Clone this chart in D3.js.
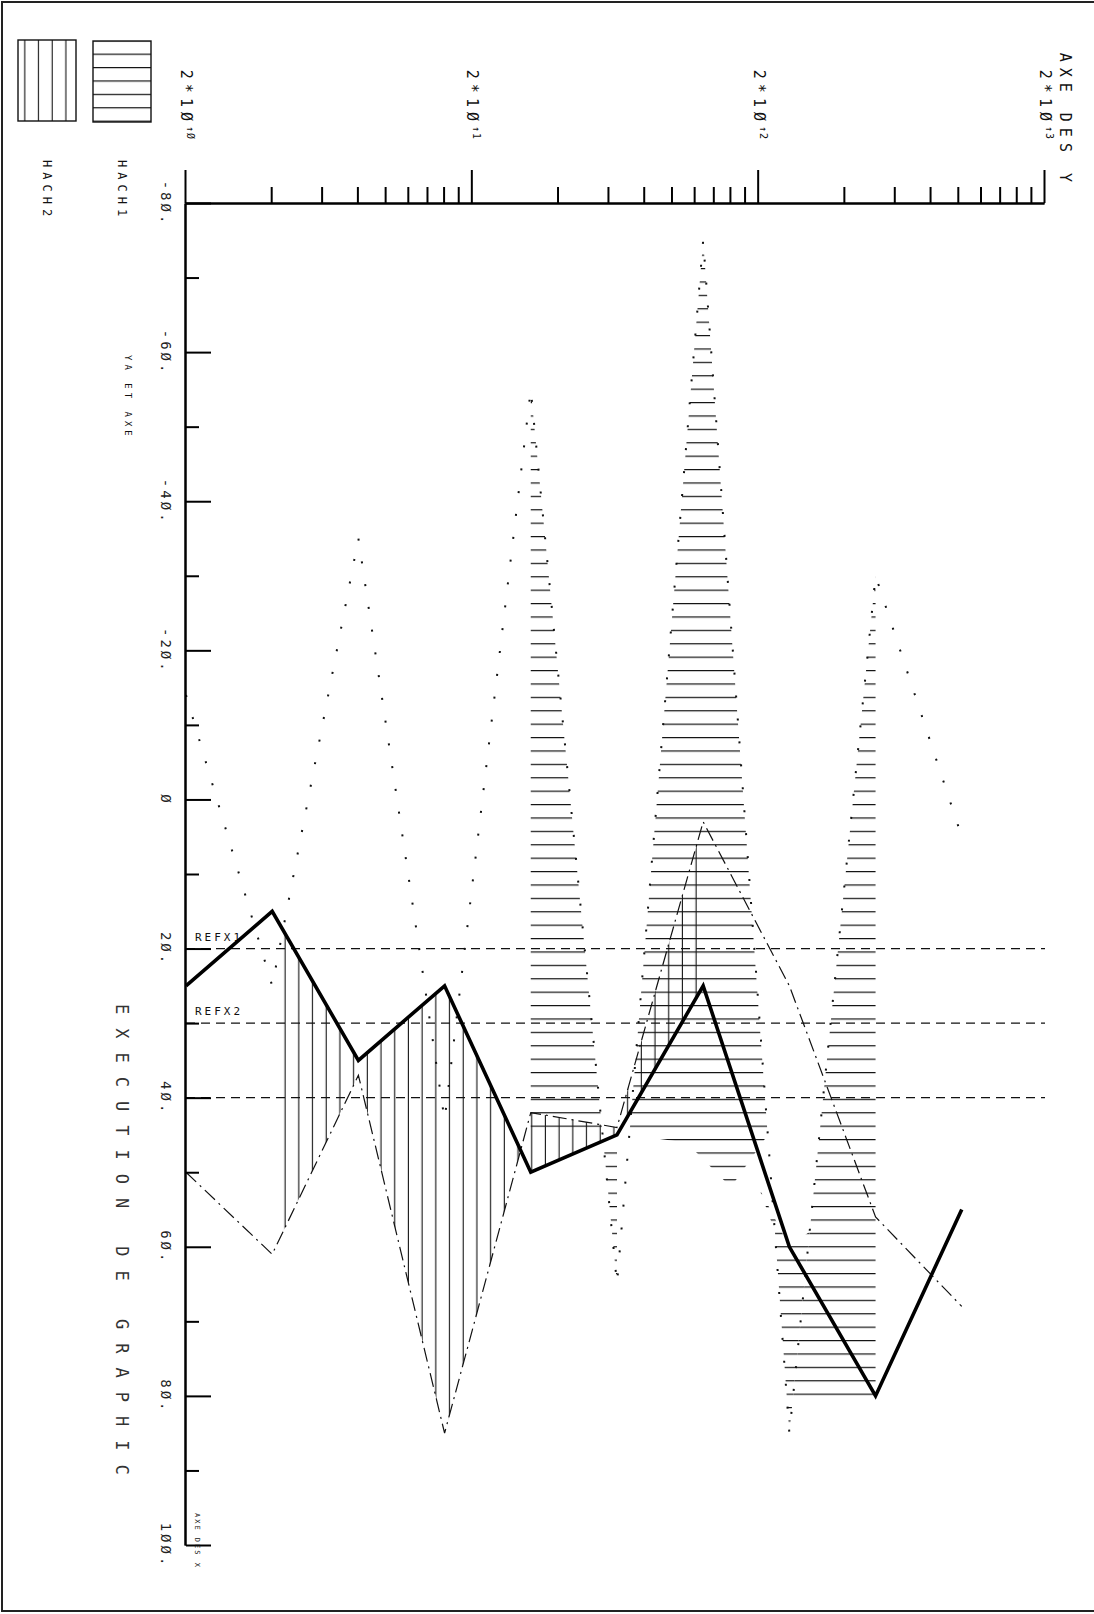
<!DOCTYPE html>
<html>
<head>
<meta charset="utf-8">
<script src="https://cdn.jsdelivr.net/npm/d3@7"></script>
<style>
  body { margin: 0; background: #fff; }
  svg { display: block; }
  text { font-family: "DejaVu Sans Mono", monospace; fill: #111; }
</style>
</head>
<body>
<svg id="plot" width="1094" height="1614"></svg>
<script>
// log axis values (Y), one point per doubling
var ys = [2, 4, 8, 16, 32, 64, 128, 256, 512, 1024];
// thick curve
var serie1 = [25, 15, 35, 25, 50, 45, 25, 60, 80, 55];
// dotted curve (spikes)
var serie2 = [-14, 25, -35, 43, -55, 65, -75, 85, -30, 5];
// dash-dot curve
var serie3 = [50, 61, 37, 85, 42, 44, 3, 25, 56, 68];

var xMinor = [-70, -50, -30, -10, 10, 30, 50, 70, 90];
var xMajor = [-80, -60, -40, -20, 0, 20, 40, 60, 80, 100];
var xLabels = ["-8Ø.", "-6Ø.", "-4Ø.", "-2Ø.", "Ø", "2Ø.", "4Ø.", "6Ø.", "8Ø.", "1ØØ."];
var yMinor = [4, 6, 8, 10, 12, 14, 16, 18, 40, 60, 80, 100, 120, 140, 160, 180, 400, 600, 800, 1000, 1200, 1400, 1600, 1800];
var yMajor = [2, 20, 200, 2000];
var yExpo = ["Ø", "1", "2", "3"];
var refVals = [20, 30, 40];
var refNames = ["REFX1", "REFX2", ""];

// hatched zones, corners as [X, Y]
var hach2Zones = [
  [[15, 4], [35, 8], [25, 16], [50, 32], [42, 32], [85, 16], [37, 8], [61, 4]],
  [[45, 64], [25, 128], [3, 128], [44, 64]],
  [[42, 32], [50, 32], [45, 64], [44, 64]]
];
var hach1Zones = [
  [[-55, 32], [44, 32], [44, 56.7]],
  [[47, 57.7], [47, 64], [65, 64]],
  [[-75, 128], [45, 70.7], [46, 112], [52, 160], [45, 215]],
  [[52, 200], [58, 228], [85, 256], [58, 301], [60, 256]],
  [[-30, 512], [80, 264], [80, 512]]
];

var svg = d3.select("#plot");

// frame of the sheet
svg.append("path").attr("d", "M1094,2 L2,2 L2,1611 L1094,1611")
  .style("fill", "none").style("stroke", "#222").style("stroke-width", 2);

// the whole chart is drawn sideways
var g = svg.append("g").attr("transform", "translate(1094,0) rotate(90)");

var x = d3.scaleLinear().domain([-80, 100]).range([203, 1545]);
var y = d3.scaleLog().domain([2, 2000]).range([908, 49]);

var defs = svg.append("defs");
var p1 = defs.append("pattern").attr("id", "hach1").attr("patternUnits", "userSpaceOnUse")
  .attr("width", 13.4).attr("height", 20);
p1.append("line").attr("x1", 0.6).attr("x2", 0.6).attr("y1", 0).attr("y2", 20)
  .style("stroke", "#111").style("stroke-width", 1.2);
var p2 = defs.append("pattern").attr("id", "hach2").attr("patternUnits", "userSpaceOnUse")
  .attr("width", 20).attr("height", 13.7);
p2.append("line").attr("x1", 0).attr("x2", 20).attr("y1", 0.6).attr("y2", 0.6)
  .style("stroke", "#111").style("stroke-width", 1.1);

var zone = d3.line().x(d => x(d[0])).y(d => y(d[1]));

g.selectAll(".h1").data(hach1Zones).enter().append("path")
  .attr("d", d => zone(d) + "Z").style("fill", "url(#hach1)").style("stroke", "none");
g.selectAll(".h2").data(hach2Zones).enter().append("path")
  .attr("d", d => zone(d) + "Z").style("fill", "url(#hach2)").style("stroke", "none");

// reference lines
refVals.forEach(function(v, i){
  g.append("line").attr("x1", x(v)).attr("x2", x(v)).attr("y1", y(2)).attr("y2", y(2000))
    .style("stroke", "#111").style("stroke-width", 1.2).style("stroke-dasharray", "9,6");
  if (refNames[i]) {
    g.append("text").attr("transform", "translate(" + (x(v) - 8) + "," + (y(2) - 9) + ") rotate(-90)")
      .style("font-size", "11px").style("letter-spacing", "3px").text(refNames[i]);
  }
});

var courbe = function(vals){
  return d3.line().x(d => x(d)).y((d, i) => y(ys[i]))(vals);
};

g.append("path").attr("d", courbe(serie2)).style("fill", "none")
  .style("stroke", "#111").style("stroke-width", 2).style("stroke-dasharray", "2,21");
g.append("path").attr("d", courbe(serie3)).style("fill", "none")
  .style("stroke", "#111").style("stroke-width", 1.2).style("stroke-dasharray", "14,5,2,5");
g.append("path").attr("d", courbe(serie1)).style("fill", "none")
  .style("stroke", "#000").style("stroke-width", 3.6).style("stroke-linejoin", "miter");

// linear axis (X)
var axX = g.append("g").attr("transform", "translate(0," + y(2) + ")");
axX.append("g").call(d3.axisBottom(x).tickValues(xMinor).tickSize(-13).tickSizeOuter(0).tickFormat(""));
axX.append("g").call(d3.axisBottom(x).tickValues(xMajor).tickSize(-25).tickSizeOuter(0)
  .tickPadding(15).tickFormat((d, i) => xLabels[i]));
axX.selectAll("path, line").style("stroke", "#000").style("stroke-width", 2);
axX.selectAll("text").style("font-size", "14px").style("letter-spacing", "3px")
  .style("font-family", "DejaVu Sans Mono").style("fill", "#222");

// log axis (Y)
var axY = g.append("g").attr("transform", "translate(" + x(-80) + ",0)");
axY.append("g").call(d3.axisLeft(y).tickValues(yMinor).tickSize(16).tickSizeOuter(0).tickFormat(""));
axY.append("g").call(d3.axisLeft(y).tickValues(yMajor).tickSize(33).tickSizeOuter(0).tickFormat(""));
axY.selectAll("path, line").style("stroke", "#000").style("stroke-width", 2);

yMajor.forEach(function(v, i){
  var t = g.append("text").attr("x", x(-80) - 63).attr("y", y(v) + 5)
    .attr("text-anchor", "end").style("font-size", "15px").style("letter-spacing", "5px");
  t.append("tspan").text("2*1Ø");
  t.append("tspan").attr("dy", -6).style("font-size", "10px").style("letter-spacing", "1px").text("↑" + yExpo[i]);
});

g.append("text").attr("x", 188).attr("y", 34).attr("text-anchor", "end")
  .style("font-size", "15px").style("letter-spacing", "6px").text("AXE DES Y");
g.append("text").attr("x", 1513).attr("y", 899)
  .style("font-size", "7px").style("letter-spacing", "2px").text("AXE DES X");

// title
g.append("text").attr("x", 1004).attr("y", 978)
  .style("font-size", "17px").style("letter-spacing", "14px").style("fill", "#333")
  .text("EXECUTION DE GRAPHIC");
g.append("text").attr("x", 355).attr("y", 969)
  .style("font-size", "9px").style("letter-spacing", "4px").text("YA ET AXE");

// legend
var legende = [
  {nom: "HACH1", motif: "hach1", u: 41, v: 943},
  {nom: "HACH2", motif: "hach2", u: 40, v: 1018}
];
legende.forEach(function(l){
  g.append("rect").attr("x", l.u).attr("y", l.v).attr("width", 81).attr("height", 58)
    .style("fill", "url(#" + l.motif + ")").style("stroke", "#111").style("stroke-width", 1.4);
  g.append("text").attr("x", 160).attr("y", l.v + 33)
    .style("font-size", "12px").style("letter-spacing", "5px").text(l.nom);
});
</script>
</body>
</html>
